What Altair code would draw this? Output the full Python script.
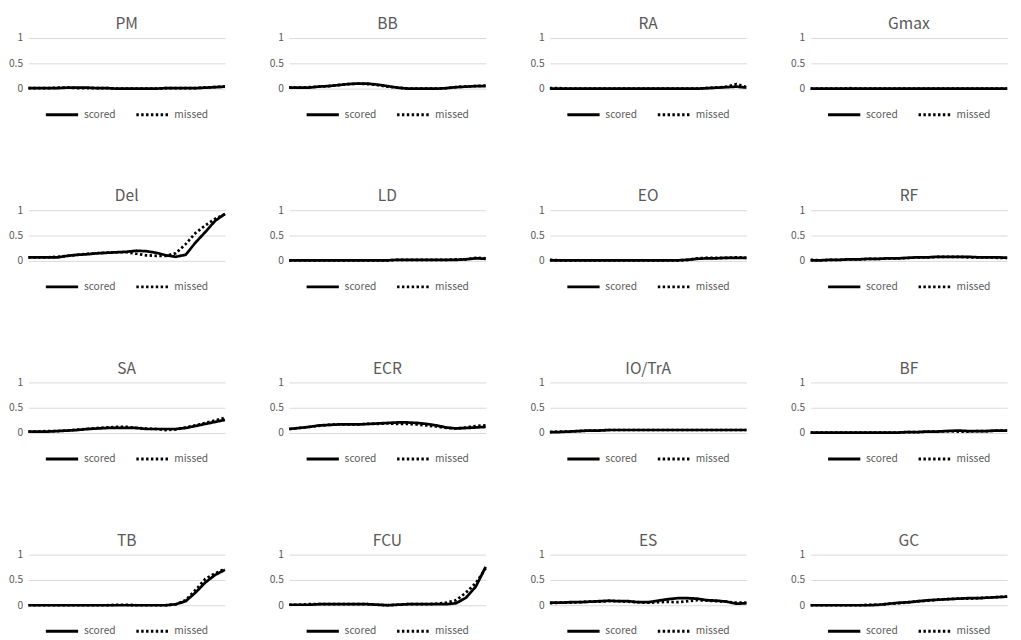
import altair as alt
import pandas as pd

X = [0, 5, 10, 15, 20, 25, 30, 35, 40, 45, 50, 55, 60, 65, 70, 75, 80, 85, 90, 95, 100]

PM_scored = [0.01, 0.01, 0.01, 0.01, 0.02, 0.02, 0.02, 0.01, 0.01, 0.0, 0.0, 0.0, 0.0, 0.0, 0.01, 0.01, 0.01, 0.01, 0.02, 0.03, 0.04]
PM_missed = [0.01, 0.01, 0.01, 0.02, 0.02, 0.01, 0.01, 0.01, 0.01, 0.0, 0.0, 0.0, 0.0, 0.0, 0.01, 0.01, 0.01, 0.01, 0.02, 0.03, 0.04]
BB_scored = [0.02, 0.02, 0.02, 0.04, 0.05, 0.07, 0.09, 0.10, 0.10, 0.08, 0.05, 0.02, 0.0, 0.0, 0.0, 0.0, 0.01, 0.03, 0.04, 0.05, 0.05]
BB_missed = [0.02, 0.02, 0.03, 0.04, 0.05, 0.07, 0.09, 0.10, 0.09, 0.07, 0.04, 0.02, 0.0, 0.0, 0.0, 0.0, 0.01, 0.03, 0.04, 0.05, 0.06]
RA_scored = [0.0, 0.0, 0.0, 0.0, 0.0, 0.0, 0.0, 0.0, 0.0, 0.0, 0.0, 0.0, 0.0, 0.0, 0.0, 0.0, 0.01, 0.02, 0.03, 0.04, 0.02]
RA_missed = [0.01, 0.01, 0.0, 0.0, 0.0, 0.0, 0.0, 0.0, 0.0, 0.0, 0.0, 0.0, 0.0, 0.0, 0.0, 0.0, 0.01, 0.02, 0.04, 0.09, 0.03]
Gmax_scored = [0.0] * 21
Gmax_missed = [0.0, 0.0, 0.0, 0.0, 0.01, 0.0, 0.0, 0.0, 0.0, 0.0, 0.0, 0.0, 0.0, 0.0, 0.0, 0.0, 0.0, 0.0, 0.0, 0.0, 0.0]
Del_scored = [0.07, 0.07, 0.07, 0.07, 0.10, 0.12, 0.13, 0.15, 0.16, 0.17, 0.18, 0.20, 0.19, 0.16, 0.11, 0.08, 0.12, 0.36, 0.57, 0.79, 0.93]
Del_missed = [0.07, 0.07, 0.07, 0.08, 0.10, 0.12, 0.14, 0.15, 0.16, 0.17, 0.17, 0.14, 0.11, 0.10, 0.10, 0.15, 0.33, 0.55, 0.70, 0.83, 0.92]
LD_scored = [0.01, 0.01, 0.01, 0.01, 0.01, 0.01, 0.01, 0.01, 0.01, 0.01, 0.01, 0.02, 0.02, 0.02, 0.02, 0.02, 0.02, 0.02, 0.03, 0.05, 0.04]
LD_missed = [0.01, 0.01, 0.01, 0.01, 0.01, 0.01, 0.01, 0.01, 0.01, 0.01, 0.01, 0.02, 0.02, 0.02, 0.02, 0.02, 0.02, 0.03, 0.03, 0.06, 0.05]
EO_scored = [0.01, 0.01, 0.01, 0.01, 0.01, 0.01, 0.01, 0.01, 0.01, 0.01, 0.01, 0.01, 0.01, 0.01, 0.02, 0.04, 0.05, 0.05, 0.06, 0.06, 0.06]
EO_missed = [0.02, 0.01, 0.01, 0.01, 0.01, 0.01, 0.01, 0.01, 0.01, 0.01, 0.01, 0.01, 0.01, 0.01, 0.02, 0.05, 0.06, 0.06, 0.06, 0.07, 0.06]
RF_scored = [0.01, 0.01, 0.02, 0.02, 0.03, 0.03, 0.04, 0.04, 0.05, 0.05, 0.06, 0.07, 0.07, 0.08, 0.08, 0.08, 0.08, 0.07, 0.07, 0.07, 0.06]
RF_missed = [0.02, 0.01, 0.02, 0.02, 0.03, 0.03, 0.04, 0.04, 0.05, 0.05, 0.06, 0.07, 0.07, 0.08, 0.08, 0.08, 0.07, 0.07, 0.07, 0.06, 0.06]
SA_scored = [0.03, 0.03, 0.03, 0.04, 0.05, 0.06, 0.08, 0.09, 0.10, 0.10, 0.10, 0.10, 0.08, 0.08, 0.08, 0.08, 0.10, 0.14, 0.18, 0.22, 0.26]
SA_missed = [0.03, 0.03, 0.04, 0.04, 0.05, 0.07, 0.08, 0.10, 0.11, 0.12, 0.12, 0.10, 0.09, 0.08, 0.06, 0.07, 0.11, 0.15, 0.20, 0.25, 0.30]
ECR_scored = [0.08, 0.10, 0.12, 0.15, 0.16, 0.17, 0.17, 0.17, 0.18, 0.19, 0.20, 0.21, 0.21, 0.20, 0.18, 0.15, 0.11, 0.09, 0.10, 0.11, 0.12]
ECR_missed = [0.08, 0.10, 0.12, 0.14, 0.16, 0.17, 0.17, 0.17, 0.18, 0.18, 0.19, 0.18, 0.18, 0.17, 0.15, 0.13, 0.10, 0.09, 0.11, 0.14, 0.15]
IO_scored = [0.02, 0.02, 0.03, 0.04, 0.05, 0.05, 0.06, 0.06, 0.06, 0.06, 0.06, 0.06, 0.06, 0.06, 0.06, 0.06, 0.06, 0.06, 0.06, 0.06, 0.06]
IO_missed = [0.02, 0.03, 0.03, 0.04, 0.05, 0.05, 0.06, 0.06, 0.06, 0.06, 0.06, 0.06, 0.06, 0.06, 0.06, 0.06, 0.06, 0.06, 0.06, 0.06, 0.06]
BF_scored = [0.01, 0.01, 0.01, 0.01, 0.01, 0.01, 0.01, 0.01, 0.01, 0.01, 0.02, 0.02, 0.03, 0.03, 0.04, 0.05, 0.04, 0.04, 0.04, 0.05, 0.05]
BF_missed = [0.01, 0.01, 0.01, 0.01, 0.01, 0.01, 0.01, 0.01, 0.01, 0.01, 0.02, 0.02, 0.03, 0.03, 0.04, 0.03, 0.03, 0.04, 0.04, 0.05, 0.05]
TB_scored = [0.0, 0.0, 0.0, 0.0, 0.0, 0.0, 0.0, 0.0, 0.0, 0.0, 0.0, 0.0, 0.0, 0.0, 0.0, 0.02, 0.08, 0.25, 0.45, 0.60, 0.70]
TB_missed = [0.0, 0.0, 0.0, 0.0, 0.0, 0.0, 0.0, 0.0, 0.0, 0.01, 0.01, 0.0, 0.0, 0.0, 0.0, 0.02, 0.10, 0.30, 0.52, 0.63, 0.72]
FCU_scored = [0.01, 0.01, 0.01, 0.02, 0.02, 0.02, 0.02, 0.02, 0.02, 0.01, 0.0, 0.01, 0.02, 0.02, 0.02, 0.02, 0.02, 0.04, 0.15, 0.37, 0.76]
FCU_missed = [0.01, 0.01, 0.02, 0.02, 0.02, 0.02, 0.02, 0.02, 0.02, 0.01, 0.0, 0.01, 0.02, 0.02, 0.02, 0.03, 0.05, 0.10, 0.25, 0.44, 0.73]
ES_scored = [0.05, 0.05, 0.06, 0.06, 0.07, 0.08, 0.09, 0.08, 0.08, 0.06, 0.06, 0.09, 0.12, 0.14, 0.14, 0.13, 0.10, 0.09, 0.07, 0.03, 0.04]
ES_missed = [0.04, 0.05, 0.05, 0.06, 0.07, 0.07, 0.08, 0.08, 0.07, 0.06, 0.05, 0.06, 0.07, 0.06, 0.08, 0.10, 0.09, 0.08, 0.07, 0.05, 0.05]
GC_scored = [0.0, 0.0, 0.0, 0.0, 0.0, 0.0, 0.0, 0.01, 0.03, 0.05, 0.06, 0.08, 0.10, 0.11, 0.12, 0.13, 0.14, 0.14, 0.15, 0.16, 0.17]
GC_missed = [0.0, 0.0, 0.0, 0.0, 0.0, 0.0, 0.01, 0.01, 0.03, 0.04, 0.06, 0.08, 0.09, 0.11, 0.12, 0.13, 0.13, 0.14, 0.15, 0.16, 0.17]

PANELS = [
    ("PM", PM_scored, PM_missed), ("BB", BB_scored, BB_missed),
    ("RA", RA_scored, RA_missed), ("Gmax", Gmax_scored, Gmax_missed),
    ("Del", Del_scored, Del_missed), ("LD", LD_scored, LD_missed),
    ("EO", EO_scored, EO_missed), ("RF", RF_scored, RF_missed),
    ("SA", SA_scored, SA_missed), ("ECR", ECR_scored, ECR_missed),
    ("IO/TrA", IO_scored, IO_missed), ("BF", BF_scored, BF_missed),
    ("TB", TB_scored, TB_missed), ("FCU", FCU_scored, FCU_missed),
    ("ES", ES_scored, ES_missed), ("GC", GC_scored, GC_missed),
]

FONT = "Noto Sans CJK JP"
GREY = "#595959"
PLOT_W = 202
PLOT_H = 52


def panel(name, scored, missed):
    n = len(X)
    df = pd.DataFrame({
        "x": X + X,
        "v": scored + missed,
        "series": ["scored"] * n + ["missed"] * n,
    })
    return alt.Chart(df, title=alt.Title(name)).mark_line(
        color="black", strokeWidth=2.8
    ).encode(
        x=alt.X("x:Q", axis=None, scale=alt.Scale(domain=[0, 100], nice=False, zero=False)),
        y=alt.Y("v:Q", scale=alt.Scale(domain=[0, 1], nice=False),
                axis=alt.Axis(values=[0, 0.5, 1], format="~g", title=None)),
        strokeDash=alt.StrokeDash(
            "series:N",
            scale=alt.Scale(domain=["scored", "missed"], range=[[1, 0], [2.5, 2.5]]),
            legend=alt.Legend(title=None, orient="none", direction="horizontal",
                              legendX=16, legendY=PLOT_H + 8,
                              symbolType="stroke", symbolSize=1100, symbolStrokeWidth=3,
                              symbolStrokeColor="black", labelFontSize=10.5,
                              labelColor=GREY, labelFont=FONT, columnPadding=14),
        ),
        detail="series:N",
    ).properties(width=PLOT_W, height=PLOT_H)


chart = alt.concat(
    *[panel(*p) for p in PANELS], columns=4, spacing={"column": 39, "row": 70}
).resolve_scale(strokeDash="independent").resolve_legend(
    strokeDash="independent"
).properties(
    padding={"left": 0, "top": 0, "right": 0, "bottom": 0}
).configure_view(strokeWidth=0).configure_axis(
    grid=True, gridColor="#d9d9d9", gridWidth=1, domain=False, ticks=False,
    labelColor=GREY, labelFont=FONT, labelFontSize=10.5, labelPadding=6,
).configure_title(
    font=FONT, fontSize=16, fontWeight="normal", color=GREY, offset=1, anchor="middle"
)

chart.save("out.html", embed_options={"renderer": "svg", "actions": False})
